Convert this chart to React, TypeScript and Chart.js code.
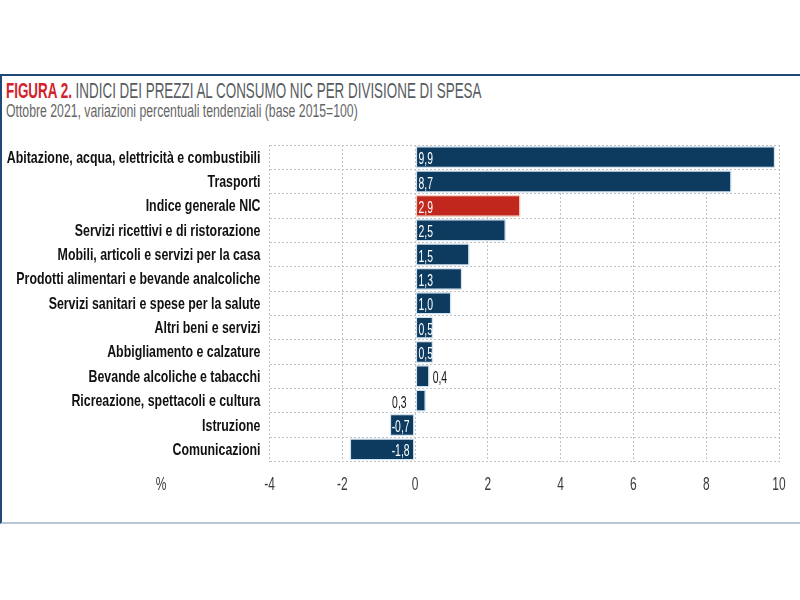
import React, { useEffect, useRef } from 'react';
import { Chart, registerables } from 'chart.js';

Chart.register(...registerables);

const FONT = "'Liberation Sans', Arial, sans-serif";

const categories = [
  'Abitazione, acqua, elettricità e combustibili',
  'Trasporti',
  'Indice generale NIC',
  'Servizi ricettivi e di ristorazione',
  'Mobili, articoli e servizi per la casa',
  'Prodotti alimentari e bevande analcoliche',
  'Servizi sanitari e spese per la salute',
  'Altri beni e servizi',
  'Abbigliamento e calzature',
  'Bevande alcoliche e tabacchi',
  'Ricreazione, spettacoli e cultura',
  'Istruzione',
  'Comunicazioni',
];

const values = [9.9, 8.7, 2.9, 2.5, 1.5, 1.3, 1.0, 0.5, 0.5, 0.4, 0.3, -0.7, -1.8];

// where each value label sits: inside the bar, after its end, or before its start
const labelPlacement = ['in', 'in', 'in', 'in', 'in', 'in', 'in', 'in', 'in', 'end', 'start', 'in', 'in'];

const highlightCategory = 'Indice generale NIC';

const xMin = -4;
const xMax = 10;
const xStep = 2;

const axisUnit = '%';

const titleLead = 'FIGURA 2.';
const titleText = ' INDICI DEI PREZZI AL CONSUMO NIC PER DIVISIONE DI SPESA';
const subtitleText = 'Ottobre 2021, variazioni percentuali tendenziali (base 2015=100)';

const NAVY = '#0d3a5f';
const RED = '#c1271d';

const fmt = (v: number) => v.toFixed(1).replace('.', ',');

function drawNarrow(
  ctx: CanvasRenderingContext2D,
  text: string,
  x: number,
  y: number,
  align: CanvasTextAlign,
  sx: number,
) {
  ctx.save();
  ctx.translate(x, y);
  ctx.scale(sx, 1);
  ctx.textAlign = align;
  ctx.fillText(text, 0, 0);
  ctx.restore();
}

const narrowText = {
  id: 'narrowText',
  afterDraw(chart: any) {
    const ctx: CanvasRenderingContext2D = chart.ctx;
    const area = chart.chartArea;
    const xs = chart.scales.x;
    const ys = chart.scales.y;
    ctx.save();

    // category labels
    ctx.font = `bold 16.5px ${FONT}`;
    ctx.fillStyle = '#111';
    ctx.textBaseline = 'middle';
    ys.ticks.forEach((t: any, i: number) => {
      const label = chart.data.labels[t.value ?? i];
      drawNarrow(ctx, label, area.left - 9, ys.getPixelForTick(i) + 1, 'right', 0.75);
    });

    // x tick labels
    ctx.font = `19px ${FONT}`;
    ctx.fillStyle = '#3a3a3a';
    xs.ticks.forEach((t: any) => {
      drawNarrow(ctx, String(t.value).replace('.', ','), xs.getPixelForValue(t.value), area.bottom + 23, 'center', 0.63);
    });
    drawNarrow(ctx, axisUnit, 161, area.bottom + 23, 'center', 0.63);

    // value labels
    const meta = chart.getDatasetMeta(0);
    ctx.font = `16px ${FONT}`;
    ctx.textBaseline = 'alphabetic';
    meta.data.forEach((bar: any, i: number) => {
      const v = values[i];
      const { x, y, base } = bar.getProps(['x', 'y', 'base'], true);
      const p = labelPlacement[i];
      let tx = 0;
      let align: CanvasTextAlign = 'left';
      let color = '#fff';
      if (p === 'end') {
        tx = x + 3; align = 'left'; color = '#111';
      } else if (p === 'start') {
        tx = base - 9; align = 'right'; color = '#111';
      } else if (v >= 0) {
        tx = base + 3; align = 'left';
      } else {
        tx = base - 5; align = 'right';
      }
      ctx.fillStyle = color;
      drawNarrow(ctx, fmt(v), tx, y + 7, align, 0.65);
    });
    ctx.restore();
  },
};

export default function App() {
  const ref = useRef<HTMLCanvasElement>(null);

  useEffect(() => {
    if (!ref.current) return;
    const bg = categories.map((c) => (c === highlightCategory ? RED : NAVY));
    const bc = categories.map((c) => (c === highlightCategory ? '#f1cfc2' : '#d3e4f0'));
    const chart = new Chart(ref.current, {
      type: 'bar',
      data: {
        labels: categories,
        datasets: [
          {
            data: values,
            backgroundColor: bg,
            borderColor: bc,
            borderWidth: 1.5,
            borderSkipped: false,
            barPercentage: 0.92,
            categoryPercentage: 1,
          },
        ],
      },
      options: {
        indexAxis: 'y',
        responsive: false,
        maintainAspectRatio: false,
        animation: false,
        layout: { padding: { top: 145, right: 21, bottom: 98.5, left: 0 } },
        plugins: {
          legend: { display: false },
          tooltip: { enabled: false },
          title: { display: false },
        },
        scales: {
          x: {
            type: 'linear',
            min: xMin,
            max: xMax,
            ticks: { stepSize: xStep, display: false },
            grid: { color: '#c2c2c2', drawTicks: false, lineWidth: 1 },
            border: { display: false, dash: [2, 2] },
            afterFit: (s: any) => {
              s.height = 40;
            },
          },
          y: {
            ticks: { display: false, autoSkip: false },
            grid: { color: '#c2c2c2', drawTicks: false, offset: true, lineWidth: 1 },
            border: { display: false, dash: [2, 2] },
            afterFit: (s: any) => {
              s.width = 269.5;
            },
          },
        },
      },
      plugins: [narrowText],
    } as any);
    return () => chart.destroy();
  }, []);

  return (
    <div style={{ position: 'fixed', left: 0, top: 0, width: 800, height: 600, background: '#fff', overflow: 'hidden' }}>
      <div
        style={{
          position: 'absolute',
          left: 0,
          top: 74,
          width: 800,
          height: 450,
          boxSizing: 'border-box',
          borderTop: '2px solid #1f4a78',
          borderLeft: '2px solid #1f4a78',
          borderBottom: '2px solid #b9c6d2',
        }}
      />
      <div
        style={{
          position: 'absolute',
          left: 6,
          top: 78,
          whiteSpace: 'nowrap',
          fontFamily: FONT,
          fontSize: 22,
          lineHeight: '25px',
          transform: 'scaleX(0.61)',
          transformOrigin: 'left top',
        }}
      >
        <span style={{ color: '#d2232a', fontWeight: 'bold' }}>{titleLead}</span>
        <span style={{ color: '#575c61' }}>{titleText}</span>
      </div>
      <div
        style={{
          position: 'absolute',
          left: 6,
          top: 101,
          whiteSpace: 'nowrap',
          fontFamily: FONT,
          fontSize: 17.5,
          lineHeight: '21px',
          color: '#666',
          transform: 'scaleX(0.70)',
          transformOrigin: 'left top',
        }}
      >
        {subtitleText}
      </div>
      <canvas ref={ref} width={800} height={600} style={{ position: 'absolute', left: 0, top: 0, display: 'block' }} />
    </div>
  );
}
